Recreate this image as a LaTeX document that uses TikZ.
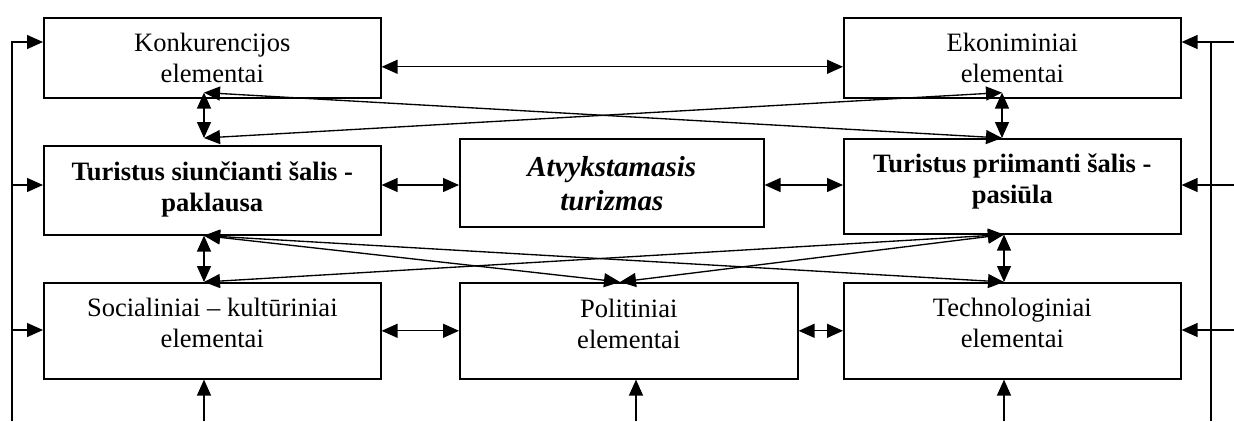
\documentclass[tikz,border=0pt]{standalone}
\usepackage{fontspec}
\setmainfont{Liberation Serif}
\usetikzlibrary{arrows.meta,calc}
\newcommand\bxfont{\fontsize{19.9pt}{23.25pt}\selectfont}
\newcommand\bigfont{\fontsize{21.7pt}{25.5pt}\selectfont}
\tikzset{
  box/.style={draw, line width=1.2pt, anchor=north west, inner xsep=0pt, inner ysep=0pt,
    align=center, font=\bxfont},
  wide/.style={minimum width=252.75pt},
  ln/.style={line width=1pt},
  arr/.style={line width=1pt, -{Triangle[length=12pt,width=10.5pt]}},
  dbl/.style={line width=1pt, {Triangle[length=12pt,width=10.5pt]}-{Triangle[length=12pt,width=10.5pt]}},
}
\begin{document}
\begin{tikzpicture}[x=0.75pt,y=-0.75pt]
\useasboundingbox (0,0) rectangle (1234,421);
% boxes
\node[box, wide, text height=48.75pt, text depth=11.25pt] (K) at (43,17) {Konkurencijos\\elementai};
\node[box, wide, text height=48.75pt, text depth=11.25pt] (E) at (843,17) {Ekoniminiai\\elementai};
\node[box, wide, text height=49.5pt, text depth=17.25pt, font=\bxfont\bfseries] (S) at (43,145) {Turistus siunčianti šalis -\\paklausa};
\node[box, minimum width=228pt, text height=54pt, text depth=12pt, font=\bigfont\bfseries\itshape] (A) at (459,138) {Atvykstamasis\\turizmas};
\node[box, wide, text height=48.75pt, text depth=22.5pt, font=\bxfont\bfseries] (P) at (843,138) {Turistus priimanti šalis -\\pasiūla};
\node[box, wide, text height=48.75pt, text depth=23.25pt] (So) at (43,282) {Socialiniai – kultūriniai\\elementai};
\node[box, minimum width=253.5pt, text height=49.5pt, text depth=22.5pt] (Po) at (459,282) {Politiniai\\elementai};
\node[box, wide, text height=48.75pt, text depth=23.25pt] (T) at (843,282) {Technologiniai\\elementai};

% connection points
\coordinate (kb) at ($(K.south west)+(161,-6)$);
\coordinate (st) at ($(S.north west)+(161,-7)$);
\coordinate (eb) at ($(E.south west)+(159,-6)$);
\coordinate (pt) at ($(P.north west)+(159,0)$);
\coordinate (sb) at ($(S.south west)+(161,0)$);
\coordinate (sot) at ($(So.north west)+(161,0)$);
\coordinate (pb) at ($(P.south west)+(161,0)$);
\coordinate (tt) at ($(T.north west)+(161,0)$);
\coordinate (pot) at ($(Po.north west)+(161,0)$);

% top row
\draw[dbl] ($(K.east)+(0,9)$) -- ($(E.west)+(0,9)$);
% upper crossing band
\draw[dbl] (kb) -- (st);
\draw[dbl] (eb) -- (pt);
\draw[dbl] (kb) -- (pt);
\draw[dbl] (st) -- (eb);
% middle row
\draw[dbl] (S.east |- 0,185) -- (A.west |- 0,185);
\draw[dbl] (A.east |- 0,185) -- (P.west |- 0,185);
% lower crossing band
\draw[dbl] (sb) -- (sot);
\draw[dbl] (sb) -- (pot);
\draw[dbl] (sb) -- (tt);
\draw[dbl] (pb) -- (sot);
\draw[dbl] (pb) -- (pot);
\draw[dbl] (pb) -- (tt);
% bottom row
\draw[dbl] (So.east) -- (Po.west);
\draw[dbl] (Po.east) -- (T.west);

% left feeder
\coordinate (L0) at (12,421);
\coordinate (LK) at (12,42);
\coordinate (LS) at (12,185);
\coordinate (LSo) at (12,330);
\draw[arr] (L0) -- (LK) -- (LK -| K.west);
\draw[arr] (LS) -- (LS -| S.west);
\draw[arr] (LSo) -- (LSo -| So.west);
% right feeder
\coordinate (R0) at (1211,421);
\coordinate (RK) at (1211,42);
\draw[ln] (R0) -- (RK);
\coordinate (RE) at (1234,42);
\coordinate (RP) at (1234,185);
\coordinate (RT) at (1234,330);
\draw[arr] (RE) -- (RE -| E.east);
\draw[arr] (RP) -- (RP -| P.east);
\draw[arr] (RT) -- (RT -| T.east);
% bottom inputs
\coordinate (B1) at (204,421);
\coordinate (B2) at (636,421);
\coordinate (B3) at (1004,421);
\draw[arr] (B1) -- (B1 |- So.south);
\draw[arr] (B2) -- (B2 |- Po.south);
\draw[arr] (B3) -- (B3 |- T.south);
\end{tikzpicture}
\end{document}
